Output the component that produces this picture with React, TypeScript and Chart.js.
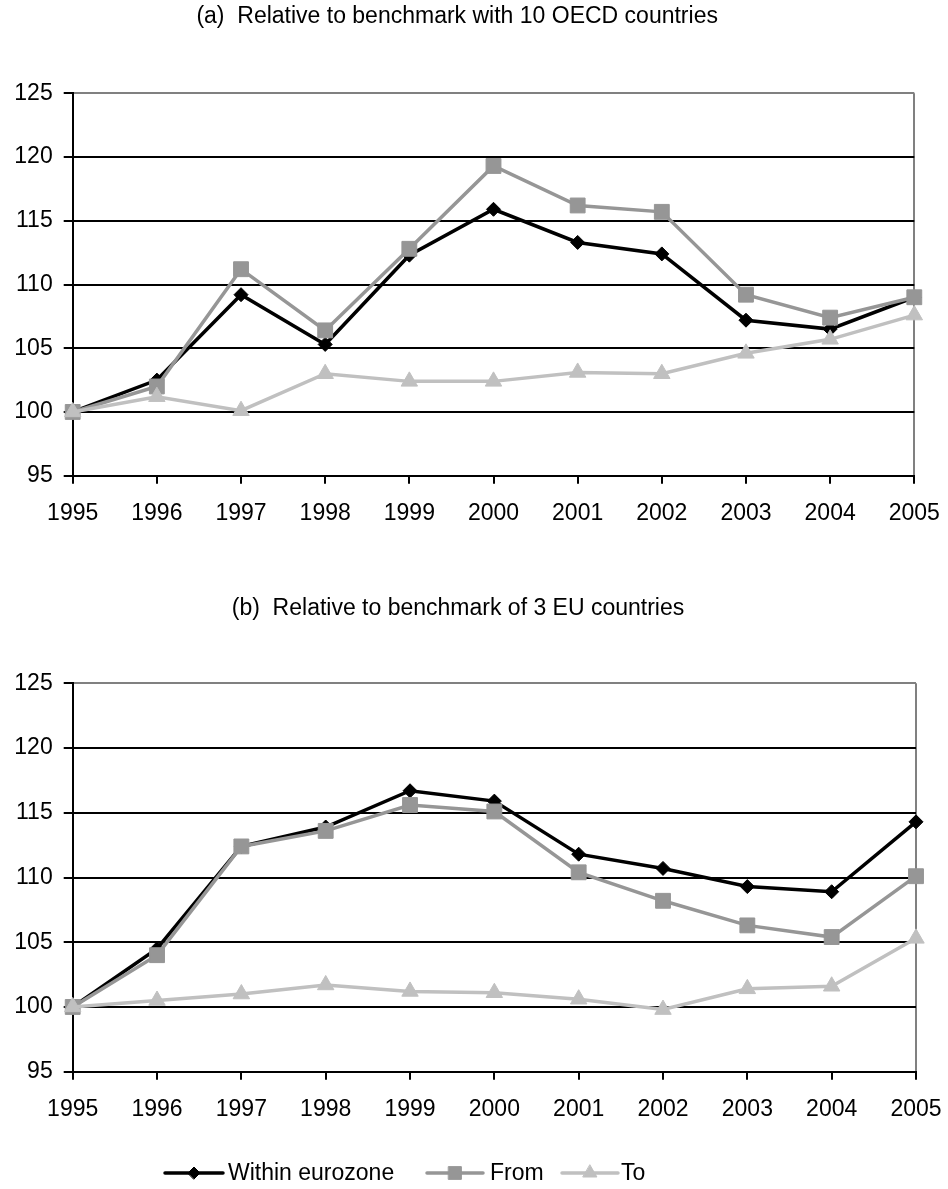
import React, { useEffect, useRef } from 'react';
import { Chart, registerables } from 'chart.js';
import { drawPoint } from 'chart.js/helpers';

Chart.register(...registerables);

// ---------- data ----------
const years = ['1995', '1996', '1997', '1998', '1999', '2000', '2001', '2002', '2003', '2004', '2005'];
const seriesNames = ['Within eurozone', 'From', 'To'];
const titleA = '(a)  Relative to benchmark with 10 OECD countries';
const titleB = '(b)  Relative to benchmark of 3 EU countries';
const yMin = 95;
const yMax = 125;
const yStep = 5;

const withinA = [100, 102.5, 109.2, 105.3, 112.3, 115.9, 113.3, 112.4, 107.2, 106.5, 109.0];
const fromA = [100, 102.0, 111.2, 106.4, 112.8, 119.3, 116.2, 115.7, 109.2, 107.4, 109.0];
const toA = [100, 101.2, 100.1, 103.0, 102.4, 102.4, 103.1, 103.0, 104.6, 105.7, 107.6];

const withinB = [100, 104.5, 112.4, 113.9, 116.7, 115.9, 111.8, 110.7, 109.3, 108.9, 114.3];
const fromB = [100, 104.0, 112.4, 113.6, 115.6, 115.1, 110.4, 108.2, 106.3, 105.4, 110.1];
const toB = [100, 100.5, 101.0, 101.7, 101.2, 101.1, 100.6, 99.8, 101.4, 101.6, 105.3];

// ---------- styles ----------
const FONT = "'Liberation Sans', Arial, Helvetica, sans-serif";
const FONT_SIZE = 23;
const seriesStyles = [
  { color: '#000000', pointStyle: 'rectRot', radius: 7, legendRadius: 6, order: 3 },
  { color: '#969696', pointStyle: 'rect', radius: 10.5, legendRadius: 9, order: 2 },
  { color: '#c0c0c0', pointStyle: 'triangle', radius: 9.5, legendRadius: 8, order: 1 },
];

// legend layout in canvas coordinates of the second panel
const legendRow = { y: 613, items: [
  { x0: 165, x1: 223, textX: 228 },
  { x0: 427, x1: 483, textX: 490 },
  { x0: 562, x1: 618, textX: 621 },
] };

const lineLegendPlugin = {
  id: 'lineLegend',
  afterDraw(chart: any, _args: any, opts: any) {
    if (!opts || !opts.display) return;
    const ctx = chart.ctx;
    ctx.save();
    chart.data.datasets.forEach((ds: any, i: number) => {
      const it = legendRow.items[i];
      const st = seriesStyles[i];
      ctx.strokeStyle = st.color;
      ctx.lineWidth = 3.5;
      ctx.lineCap = 'round';
      ctx.beginPath();
      ctx.moveTo(it.x0, legendRow.y);
      ctx.lineTo(it.x1, legendRow.y);
      ctx.stroke();
      ctx.fillStyle = st.color;
      ctx.strokeStyle = st.color;
      ctx.lineWidth = 1;
      drawPoint(ctx, { pointStyle: st.pointStyle, radius: st.legendRadius, rotation: 0, borderWidth: 1 } as any,
        (it.x0 + it.x1) / 2, legendRow.y);
      ctx.fillStyle = '#000';
      ctx.font = `${FONT_SIZE}px ${FONT}`;
      ctx.textAlign = 'left';
      ctx.textBaseline = 'middle';
      ctx.fillText(ds.label, it.textX, legendRow.y + 1);
    });
    ctx.restore();
  },
};

type PanelProps = {
  top: number;
  height: number;
  title: string;
  series: number[][];
  titlePadTop: number;
  titlePadBottom: number;
  padRight: number;
  padBottom: number;
  showLegend: boolean;
};

function Panel(p: PanelProps) {
  const ref = useRef<HTMLCanvasElement | null>(null);
  useEffect(() => {
    if (!ref.current) return;
    const chart = new Chart(ref.current, {
      type: 'line',
      data: {
        labels: years,
        datasets: p.series.map((vals, i) => ({
          label: seriesNames[i],
          data: vals,
          borderColor: seriesStyles[i].color,
          backgroundColor: seriesStyles[i].color,
          pointBackgroundColor: seriesStyles[i].color,
          pointBorderColor: seriesStyles[i].color,
          pointStyle: seriesStyles[i].pointStyle as any,
          pointRadius: seriesStyles[i].radius,
          pointBorderWidth: 1,
          borderWidth: 3.5,
          tension: 0,
          clip: false as any,
          order: seriesStyles[i].order,
        })),
      },
      plugins: [lineLegendPlugin],
      options: {
        responsive: false,
        animation: false,
        events: [],
        devicePixelRatio: 1,
        font: { family: FONT, size: FONT_SIZE },
        layout: { padding: { left: 0, right: p.padRight, top: 0, bottom: p.padBottom } },
        plugins: {
          legend: { display: false },
          tooltip: { enabled: false },
          title: {
            display: true,
            text: p.title,
            color: '#000',
            font: { family: FONT, size: FONT_SIZE, weight: 'normal' as any, lineHeight: 1.2 },
            padding: { top: p.titlePadTop, bottom: p.titlePadBottom },
          },
          lineLegend: { display: p.showLegend },
        } as any,
        scales: {
          x: {
            type: 'category',
            offset: false,
            afterFit: (s: any) => { s.height = 60; },
            grid: {
              display: true,
              drawOnChartArea: true,
              drawTicks: true,
              tickLength: 8,
              lineWidth: 2,
              offset: false,
              color: (c: any) => (c.index === years.length - 1 ? '#808080' : 'rgba(0,0,0,0)'),
              tickColor: '#000',
            },
            border: { display: true, color: '#000', width: 2 },
            ticks: {
              color: '#000',
              font: { family: FONT, size: FONT_SIZE, lineHeight: 2.07 },
              padding: 6,
              maxRotation: 0,
              autoSkip: false,
            },
          },
          y: {
            min: yMin,
            max: yMax,
            afterFit: (s: any) => { s.width = 72.7; },
            grid: {
              display: true,
              drawTicks: true,
              tickLength: 9,
              lineWidth: 2,
              color: (c: any) => (c.tick && c.tick.value === yMax ? '#808080' : '#000'),
              tickColor: '#000',
            },
            border: { display: true, color: '#000', width: 2 },
            ticks: {
              stepSize: yStep,
              color: '#000',
              font: { family: FONT, size: FONT_SIZE },
              padding: 11,
            },
          },
        },
      },
    });
    return () => chart.destroy();
  }, []);
  return (
    <canvas
      ref={ref}
      width={948}
      height={p.height}
      style={{ position: 'absolute', left: 0, top: p.top, width: 948, height: p.height, display: 'block' }}
    />
  );
}

export default function App() {
  return (
    <div style={{ position: 'absolute', left: 0, top: 0, width: 948, height: 1189, background: '#fff', overflow: 'hidden' }}>
      <Panel
        top={0}
        height={560}
        title={titleA}
        series={[withinA, fromA, toA]}
        titlePadTop={3.2}
        titlePadBottom={62.5}
        padRight={33.7}
        padBottom={24.3}
        showLegend={false}
      />
      <Panel
        top={560}
        height={629}
        title={titleB}
        series={[withinB, fromB, toB]}
        titlePadTop={35.2}
        titlePadBottom={60.5}
        padRight={32}
        padBottom={57.3}
        showLegend={true}
      />
    </div>
  );
}
